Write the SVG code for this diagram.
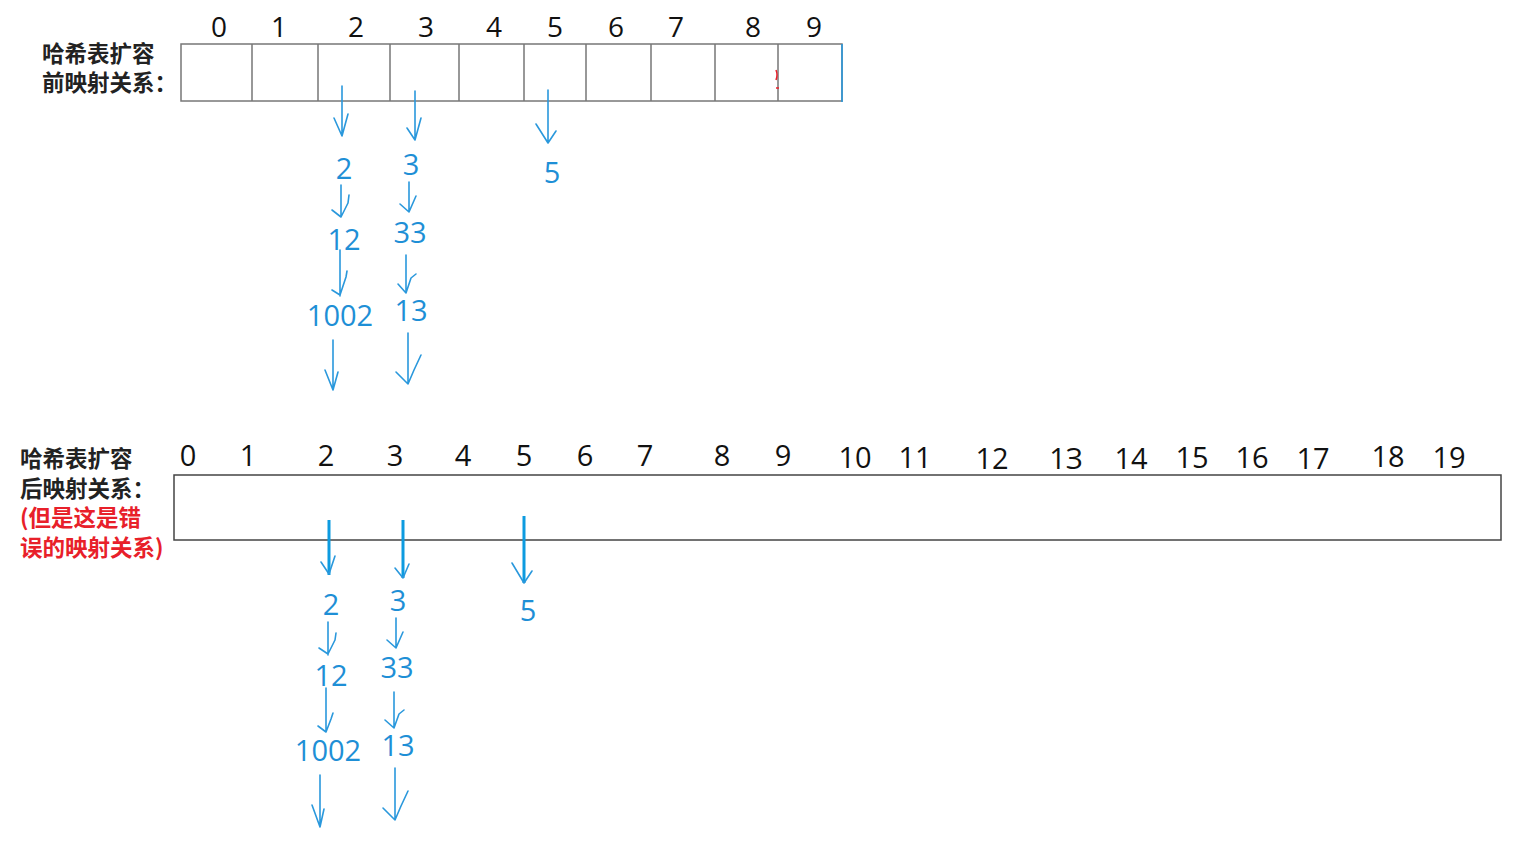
<svg xmlns="http://www.w3.org/2000/svg" width="1516" height="841" viewBox="0 0 1516 841">
<style>
.cell{fill:#fff;stroke:#777;stroke-width:1.5}
.idx{font-family:"Open Sans","Noto Sans",sans-serif;font-size:28px;fill:#111;text-anchor:middle}
.idx2{font-family:"Open Sans","Noto Sans",sans-serif;font-size:29px;fill:#111;text-anchor:middle}
.lab{font-family:"Noto Sans CJK SC",sans-serif;font-size:22.5px;font-weight:bold;fill:#222}
.red{fill:#e8202a}
.val{font-family:"Open Sans","Noto Sans",sans-serif;font-size:29px;fill:#1e8fd6;text-anchor:middle}
.ln{stroke:#2a98dc;stroke-width:1.6;fill:none;stroke-linecap:round;stroke-linejoin:round}
.thick{stroke:#0d9be0;stroke-width:3;fill:none}
</style>
<rect width="1516" height="841" fill="#fff"/>
<g id="label-before">
<text class="lab" x="42" y="62">哈希表扩容</text>
<text class="lab" x="42" y="91">前映射关系：</text>
</g>
<g id="table-before">
<rect class="cell" x="181" y="44" width="661" height="57"/>
<path d="M252 44V101M318 44V101M390 44V101M459 44V101M524 44V101M586 44V101M651 44V101M715 44V101M778 44V101" stroke="#777" stroke-width="1.5"/>
<line x1="842" y1="44" x2="842" y2="102" stroke="#2a98dc" stroke-width="1.6"/>
<path d="M776 70q2 5 0 10M776 88h3" stroke="#e8202a" stroke-width="1.5" fill="none"/>
<text class="idx" x="219" y="37">0</text><text class="idx" x="279" y="37">1</text><text class="idx" x="356" y="37">2</text><text class="idx" x="426" y="37">3</text><text class="idx" x="494" y="37">4</text><text class="idx" x="555" y="37">5</text><text class="idx" x="616" y="37">6</text><text class="idx" x="676" y="37">7</text><text class="idx" x="753" y="37">8</text><text class="idx" x="814" y="37">9</text>
</g>
<g id="values-before">
<text class="val" x="344" y="179">2</text>
<text class="val" x="344" y="250">12</text>
<text class="val" x="340" y="326">1002</text>
<text class="val" x="411" y="175">3</text>
<text class="val" x="410" y="243">33</text>
<text class="val" x="411" y="321">13</text>
<text class="val" x="552" y="183">5</text>
</g>
<g id="label-after">
<text class="lab" x="20" y="467">哈希表扩容</text>
<text class="lab" x="20" y="497">后映射关系：</text>
<text class="lab red" x="20" y="526">(但是这是错</text>
<text class="lab red" x="20" y="556">误的映射关系)</text>
</g>
<g id="table-after">
<rect x="174" y="475" width="1327" height="65" fill="#fff" stroke="#444" stroke-width="1.5"/>
<text class="idx2" x="188" y="466">0</text><text class="idx2" x="248" y="466">1</text><text class="idx2" x="326" y="466">2</text><text class="idx2" x="395" y="466">3</text><text class="idx2" x="463" y="466">4</text><text class="idx2" x="524" y="466">5</text><text class="idx2" x="585" y="466">6</text><text class="idx2" x="645" y="466">7</text><text class="idx2" x="722" y="466">8</text><text class="idx2" x="783" y="466">9</text><text class="idx2" x="855" y="468">10</text><text class="idx2" x="915" y="468">11</text><text class="idx2" x="992" y="469">12</text><text class="idx2" x="1066" y="469">1З</text><text class="idx2" x="1131" y="469">14</text><text class="idx2" x="1192" y="468">15</text><text class="idx2" x="1252" y="468">16</text><text class="idx2" x="1313" y="469">17</text><text class="idx2" x="1388" y="467">18</text><text class="idx2" x="1449" y="468">19</text>
</g>
<g id="values-after">
<text class="val" x="331" y="615">2</text>
<text class="val" x="331" y="686">12</text>
<text class="val" x="328" y="761">1002</text>
<text class="val" x="398" y="611">3</text>
<text class="val" x="397" y="678">33</text>
<text class="val" x="398" y="756">13</text>
<text class="val" x="528" y="621">5</text>
</g>
<g id="connectors">
<path class="ln" d="M342 86V136M334 118l8 18l6-22"/>
<path class="ln" d="M415 91V140M407 128l8 12l6-22"/>
<path class="ln" d="M548 90V143M536 124l12 19l8-12"/>
<path class="ln" d="M341 185V215M332 210l9 7l7-14l1-8"/>
<path class="ln" d="M340 250V296M332 290l8 5l6-18l1-6"/>
<path class="ln" d="M333 340V390M325 370l8 20l5-18"/>
<path class="ln" d="M409 182V210M400 204l9 8l7-16"/>
<path class="ln" d="M406 255V292M398 284l8 9l5-15l5-4"/>
<path class="ln" d="M408 333V384M396 372l12 12l6-14l7-15"/>
<path class="thick" d="M329 520V575M403 520V578M524 516V583"/>
<path class="ln" d="M321 562l8 12l6-18"/>
<path class="ln" d="M395 568l8 10l6-14"/>
<path class="ln" d="M512 563l12 20l8-12"/>
<path class="ln" d="M328 622V655M319 648l9 6l7-14l1-7"/>
<path class="ln" d="M326 688V732M318 726l8 6l5-13l2-6"/>
<path class="ln" d="M320 775V827M312 805l8 22l4-18"/>
<path class="ln" d="M396 618V648M387 640l9 8l7-16"/>
<path class="ln" d="M394 692V728M385 720l9 8l5-14l5-4"/>
<path class="ln" d="M395 768V820M383 808l12 12l6-14l7-15"/>
</g>
</svg>
